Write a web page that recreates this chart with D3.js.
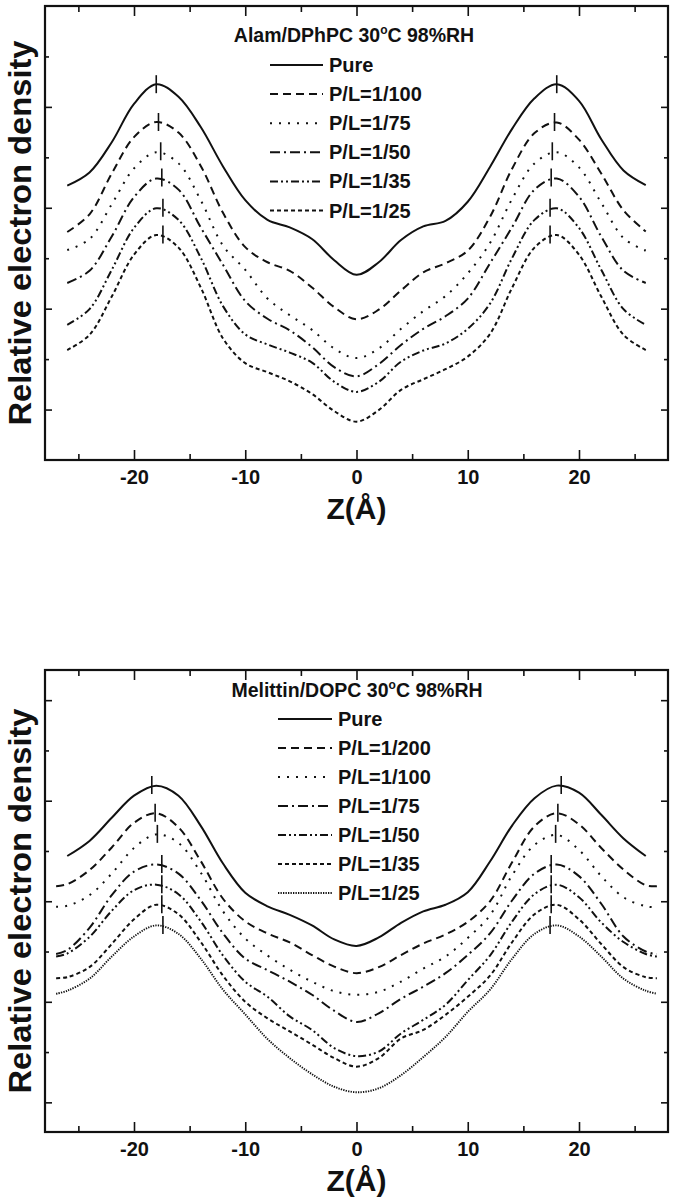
<!DOCTYPE html>
<html>
<head>
<meta charset="utf-8">
<script src="https://cdn.jsdelivr.net/npm/d3@7"></script>
<style>
  body { margin: 0; background: #fff; }
  text { font-family: "Liberation Sans", Arial, sans-serif; font-weight: bold; fill: #111; }
</style>
</head>
<body>
<svg id="chart" width="674" height="1199"></svg>
<script>
// ---- data, top panel (Alam/DPhPC) ----
var zTop = [-26,-24,-22,-20,-18,-16,-14,-12,-10,-8,-6,-4,-2,0,2,4,6,8,10,12,14,16,18,20,22,24,26];
var topLabels = ["Pure", "P/L=1/100", "P/L=1/75", "P/L=1/50", "P/L=1/35", "P/L=1/25"];
var topPure = [5.44,5.70,6.30,7.06,7.45,7.20,6.60,5.82,5.15,4.76,4.61,4.38,3.96,3.67,3.92,4.36,4.63,4.74,5.12,5.81,6.57,7.17,7.45,7.12,6.36,5.74,5.45];
var top100  = [4.52,4.87,5.68,6.40,6.70,6.49,5.83,4.90,4.22,3.92,3.75,3.42,3.03,2.79,2.98,3.36,3.72,3.90,4.15,4.82,5.78,6.48,6.69,6.35,5.68,4.95,4.53];
var top75   = [4.16,4.38,5.07,5.78,6.10,5.88,5.15,4.25,3.77,3.20,2.87,2.58,2.21,2.02,2.21,2.60,2.95,3.25,3.70,4.30,5.18,5.88,6.10,5.80,5.10,4.40,4.15];
var top50   = [3.51,3.75,4.43,5.21,5.58,5.36,4.61,3.87,3.15,2.80,2.57,2.24,1.84,1.66,1.90,2.28,2.60,2.85,3.20,3.90,4.62,5.36,5.58,5.22,4.43,3.75,3.51];
var top35   = [2.68,2.99,3.77,4.60,4.99,4.76,4.01,3.05,2.49,2.29,2.13,1.93,1.55,1.35,1.55,1.95,2.17,2.31,2.60,3.10,4.01,4.76,4.99,4.60,3.77,2.99,2.68];
var top25   = [2.18,2.48,3.24,4.07,4.46,4.21,3.42,2.41,1.92,1.74,1.56,1.31,0.97,0.76,0.99,1.39,1.60,1.80,2.05,2.50,3.42,4.21,4.46,4.07,3.24,2.48,2.18];
var topPeakZ = [18.0, 17.8, 17.6, 17.5, 17.4, 17.4];
var topPeakV = [7.45, 6.70, 6.12, 5.60, 5.00, 4.47];

// ---- data, bottom panel (Melittin/DOPC) ----
var zBot = [-27,-26,-24,-22,-20,-18,-16,-14,-12,-10,-8,-6,-4,-2,0,2,4,6,8,10,12,14,16,18,20,22,24,26,27];
var botLabels = ["Pure", "P/L=1/200", "P/L=1/100", "P/L=1/75", "P/L=1/50", "P/L=1/35", "P/L=1/25"];
var botPure = [null,5.90,6.20,6.66,7.10,7.30,7.10,6.50,5.75,5.17,4.90,4.73,4.52,4.24,4.11,4.28,4.57,4.80,4.93,5.18,5.79,6.51,7.05,7.30,7.16,6.72,6.25,5.90,null];
var bot200  = [5.30,5.34,5.62,6.07,6.56,6.75,6.47,5.80,5.05,4.60,4.36,4.18,3.93,3.70,3.57,3.69,3.93,4.16,4.34,4.59,5.00,5.78,6.49,6.75,6.53,6.06,5.63,5.32,5.30];
var bot100  = [4.89,4.91,5.12,5.55,6.06,6.33,6.16,5.57,4.80,4.26,3.92,3.64,3.40,3.21,3.14,3.20,3.40,3.66,3.90,4.27,4.72,5.52,6.12,6.32,6.02,5.50,5.08,4.90,4.88];
var bot75   = [3.95,4.03,4.47,5.12,5.59,5.73,5.55,5.02,4.36,3.86,3.63,3.40,3.14,2.82,2.60,2.77,3.06,3.30,3.57,3.93,4.36,5.02,5.55,5.73,5.50,4.95,4.30,4.00,3.95];
var bot50   = [3.90,3.96,4.29,4.81,5.22,5.33,5.14,4.60,3.92,3.40,3.10,2.71,2.44,2.08,1.92,2.01,2.37,2.64,2.94,3.43,3.92,4.60,5.14,5.33,5.08,4.58,4.19,3.95,3.90];
var bot35   = [3.47,3.49,3.69,4.15,4.64,4.93,4.74,4.19,3.52,3.00,2.67,2.41,2.15,1.88,1.71,1.88,2.27,2.44,2.74,3.10,3.52,4.19,4.74,4.93,4.64,4.15,3.69,3.49,3.47];
var bot25   = [3.16,3.22,3.46,3.90,4.30,4.52,4.35,3.86,3.24,2.75,2.26,1.88,1.56,1.31,1.20,1.28,1.54,1.90,2.30,2.80,3.24,3.86,4.35,4.52,4.30,3.90,3.46,3.22,3.16];
var botPeakZ = [18.4, 18.1, 17.9, 17.5, 17.5, 17.5, 17.4];
var botPeakV = [7.31, 6.76, 6.34, 5.74, 5.34, 4.94, 4.53];

var xMajor = [-20, -10, 0, 10, 20];
var xMinor = [-25, -15, -5, 5, 15, 25];

// line styles
var solid = {dash: null, w: 2};
var dashed = {dash: "8,5", w: 2};
var dotted = {dash: "2,7", w: 2};
var dashDot = {dash: "10,4,2,4", w: 2};
var dashDotDot = {dash: "8,3,2,3,2,3", w: 2};
var shortDash = {dash: "4,3", w: 2};
var fineDot = {dash: "1.3,1.2", w: 1.9};

var svg = d3.select("#chart");

function drawPanel(p) {
    var x = d3.scaleLinear().domain([-28, 28]).range([45, 668]);
    var y = d3.scaleLinear().domain(p.yDomain).range([p.bottom, p.top]);
    var g = svg.append("g");

    var fmt = function(d) { return String(d); };
    // x axes, ticks pointing inside
    g.append("g").attr("transform", "translate(0," + p.bottom + ")")
        .call(d3.axisBottom(x).tickValues(xMajor).tickSize(-10).tickPadding(10).tickFormat(fmt))
        .call(a => a.selectAll("text").attr("font-size", 20));
    g.append("g").attr("transform", "translate(0," + p.bottom + ")")
        .call(d3.axisBottom(x).tickValues(xMinor).tickSize(-6).tickFormat(""));
    g.append("g").attr("transform", "translate(0," + p.top + ")")
        .call(d3.axisTop(x).tickValues(xMajor).tickSize(-10).tickFormat(""));
    g.append("g").attr("transform", "translate(0," + p.top + ")")
        .call(d3.axisTop(x).tickValues(xMinor).tickSize(-6).tickFormat(""));
    // y axes, no labels
    g.append("g").attr("transform", "translate(45,0)")
        .call(d3.axisLeft(y).tickValues(p.yMajor).tickSize(-7).tickFormat(""));
    g.append("g").attr("transform", "translate(45,0)")
        .call(d3.axisLeft(y).tickValues(p.yMinor).tickSize(-4).tickFormat(""));
    g.append("g").attr("transform", "translate(668,0)")
        .call(d3.axisRight(y).tickValues(p.yMajor).tickSize(-7).tickFormat(""));
    g.append("g").attr("transform", "translate(668,0)")
        .call(d3.axisRight(y).tickValues(p.yMinor).tickSize(-4).tickFormat(""));
    g.selectAll(".domain").remove();
    g.selectAll(".tick line").attr("stroke", "#111").attr("stroke-width", 1.6);

    g.append("rect")
        .attr("x", 45).attr("y", p.top)
        .attr("width", 668 - 45).attr("height", p.bottom - p.top)
        .attr("fill", "none").attr("stroke", "#111").attr("stroke-width", 2.2);

    var line = d3.line()
        .defined(d => d.v != null)
        .x(d => x(d.z))
        .y(d => y(d.v))
        .curve(d3.curveCatmullRom.alpha(0.5));

    p.series.forEach(function(s, i) {
        var data = p.z.map((z, k) => ({z: z, v: s.values[k]}));
        g.append("path")
            .datum(data)
            .attr("fill", "none")
            .attr("stroke", "#111")
            .attr("stroke-width", s.style.w)
            .attr("stroke-dasharray", s.style.dash)
            .attr("d", line);
        // peak markers
        [-1, 1].forEach(function(sg) {
            var px = x(sg * p.peakZ[i]), py = y(p.peakV[i]);
            g.append("line")
                .attr("x1", px).attr("x2", px)
                .attr("y1", py - 9).attr("y2", py + 9)
                .attr("stroke", "#111").attr("stroke-width", 1.6);
        });
        // legend
        var ly = p.legendY + i * p.legendStep;
        g.append("line")
            .attr("x1", p.legendX0).attr("x2", p.legendX1)
            .attr("y1", ly).attr("y2", ly)
            .attr("stroke", "#111")
            .attr("stroke-width", s.style.w)
            .attr("stroke-dasharray", s.style.dash);
        g.append("text")
            .attr("x", p.legendX1 + 6).attr("y", ly + 7)
            .attr("font-size", 20)
            .text(s.label);
    });

    var t = g.append("text")
        .attr("x", p.titleX).attr("y", p.titleY)
        .attr("text-anchor", "middle")
        .attr("font-size", 19.5);
    t.append("tspan").text(p.titleA);
    t.append("tspan").attr("font-size", 12).attr("dy", -8).text("o");
    t.append("tspan").attr("dy", 8).text("C 98%RH");

    g.append("text")
        .attr("x", 356.5).attr("y", p.bottom + 59)
        .attr("text-anchor", "middle")
        .attr("font-size", 30)
        .text("Z(Å)");

    g.append("text")
        .attr("transform", "translate(31," + ((p.top + p.bottom) / 2) + ") rotate(-90)")
        .attr("text-anchor", "middle")
        .attr("font-size", 31)
        .attr("textLength", 385)
        .attr("lengthAdjust", "spacingAndGlyphs")
        .text("Relative electron density");
}

drawPanel({
    top: 6, bottom: 460, yDomain: [0, 9],
    yMajor: [1, 3, 5, 7], yMinor: [2, 4, 6, 8],
    z: zTop,
    series: [
        {label: topLabels[0], values: topPure, style: solid},
        {label: topLabels[1], values: top100, style: dashed},
        {label: topLabels[2], values: top75, style: dotted},
        {label: topLabels[3], values: top50, style: dashDot},
        {label: topLabels[4], values: top35, style: dashDotDot},
        {label: topLabels[5], values: top25, style: shortDash}
    ],
    peakZ: topPeakZ, peakV: topPeakV,
    legendY: 65, legendStep: 29.1, legendX0: 270, legendX1: 323,
    titleX: 354, titleY: 42, titleA: "Alam/DPhPC 30"
});

drawPanel({
    top: 670, bottom: 1132, yDomain: [0.41, 9.6],
    yMajor: [1, 3, 5, 7, 9], yMinor: [2, 4, 6, 8],
    z: zBot,
    series: [
        {label: botLabels[0], values: botPure, style: solid},
        {label: botLabels[1], values: bot200, style: dashed},
        {label: botLabels[2], values: bot100, style: dotted},
        {label: botLabels[3], values: bot75, style: dashDot},
        {label: botLabels[4], values: bot50, style: dashDotDot},
        {label: botLabels[5], values: bot35, style: shortDash},
        {label: botLabels[6], values: bot25, style: fineDot}
    ],
    peakZ: botPeakZ, peakV: botPeakV,
    legendY: 719, legendStep: 29.0, legendX0: 278, legendX1: 332,
    titleX: 357, titleY: 697, titleA: "Melittin/DOPC 30"
});
</script>
</body>
</html>
